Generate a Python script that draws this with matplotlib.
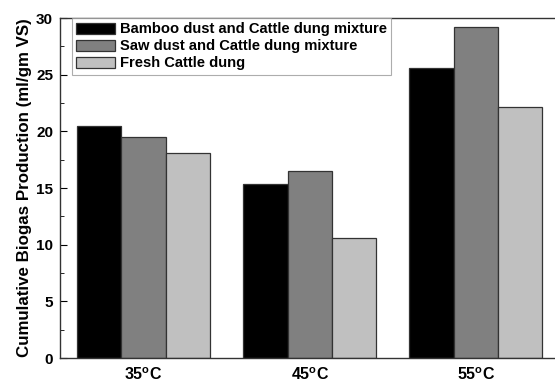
import matplotlib
matplotlib.use("Agg")
import matplotlib.pyplot as plt
import numpy as np
from matplotlib.ticker import MultipleLocator

categories = ["35$^\\mathregular{o}$C", "45$^\\mathregular{o}$C", "55$^\\mathregular{o}$C"]
series_names = ["Bamboo dust and Cattle dung mixture",
                "Saw dust and Cattle dung mixture",
                "Fresh Cattle dung"]
bamboo = [20.5, 15.35, 25.6]
saw = [19.5, 16.5, 29.2]
fresh = [18.1, 10.6, 22.15]
colors = ["#000000", "#808080", "#c0c0c0"]

plt.rcParams['font.family'] = ['Liberation Sans', 'DejaVu Sans']
plt.rcParams['font.weight'] = 'bold'
plt.rcParams['mathtext.default'] = 'regular'

fig = plt.figure(figsize=(5.55, 3.86), dpi=100)
ax = fig.add_axes([60/555, 1-358/386, 499/555, 340/386])

x = np.arange(len(categories))
w = 0.2667
for i, (vals, name) in enumerate(zip([bamboo, saw, fresh], series_names)):
    ax.bar(x + (i-1)*w, vals, w, color=colors[i], edgecolor="#333333",
           linewidth=0.9, label=name)

ax.set_xlim(-0.502, 2.5)
ax.set_ylim(0, 30)
ax.yaxis.set_major_locator(MultipleLocator(5))
ax.yaxis.set_minor_locator(MultipleLocator(2.5))
ax.tick_params(axis='y', which='major', direction='in', length=5, labelsize=11, pad=5)
ax.tick_params(axis='y', which='minor', direction='in', length=3)
ax.set_xticks(x)
ax.set_xticklabels(categories, fontsize=11.5, fontweight='bold')
ax.tick_params(axis='x', length=0, pad=6)
for s in ax.spines.values():
    s.set_color("#333333")
    s.set_linewidth(1.0)
ax.spines['right'].set_visible(False)

ax.set_ylabel("Cumulative Biogas Production (ml/gm VS)", fontsize=12.2,
              fontweight='bold', labelpad=3)

leg = ax.legend(loc='upper left', bbox_to_anchor=(12/499, 1.0), fontsize=10.6,
                frameon=True, fancybox=False, edgecolor="#999999",
                handlelength=2.6, handleheight=0.8, borderpad=0.3,
                labelspacing=0.2, handletextpad=0.35, borderaxespad=0)
leg.get_frame().set_linewidth(0.8)
for t in leg.get_texts():
    t.set_fontweight('bold')

fig.savefig("out.png", dpi=100)
